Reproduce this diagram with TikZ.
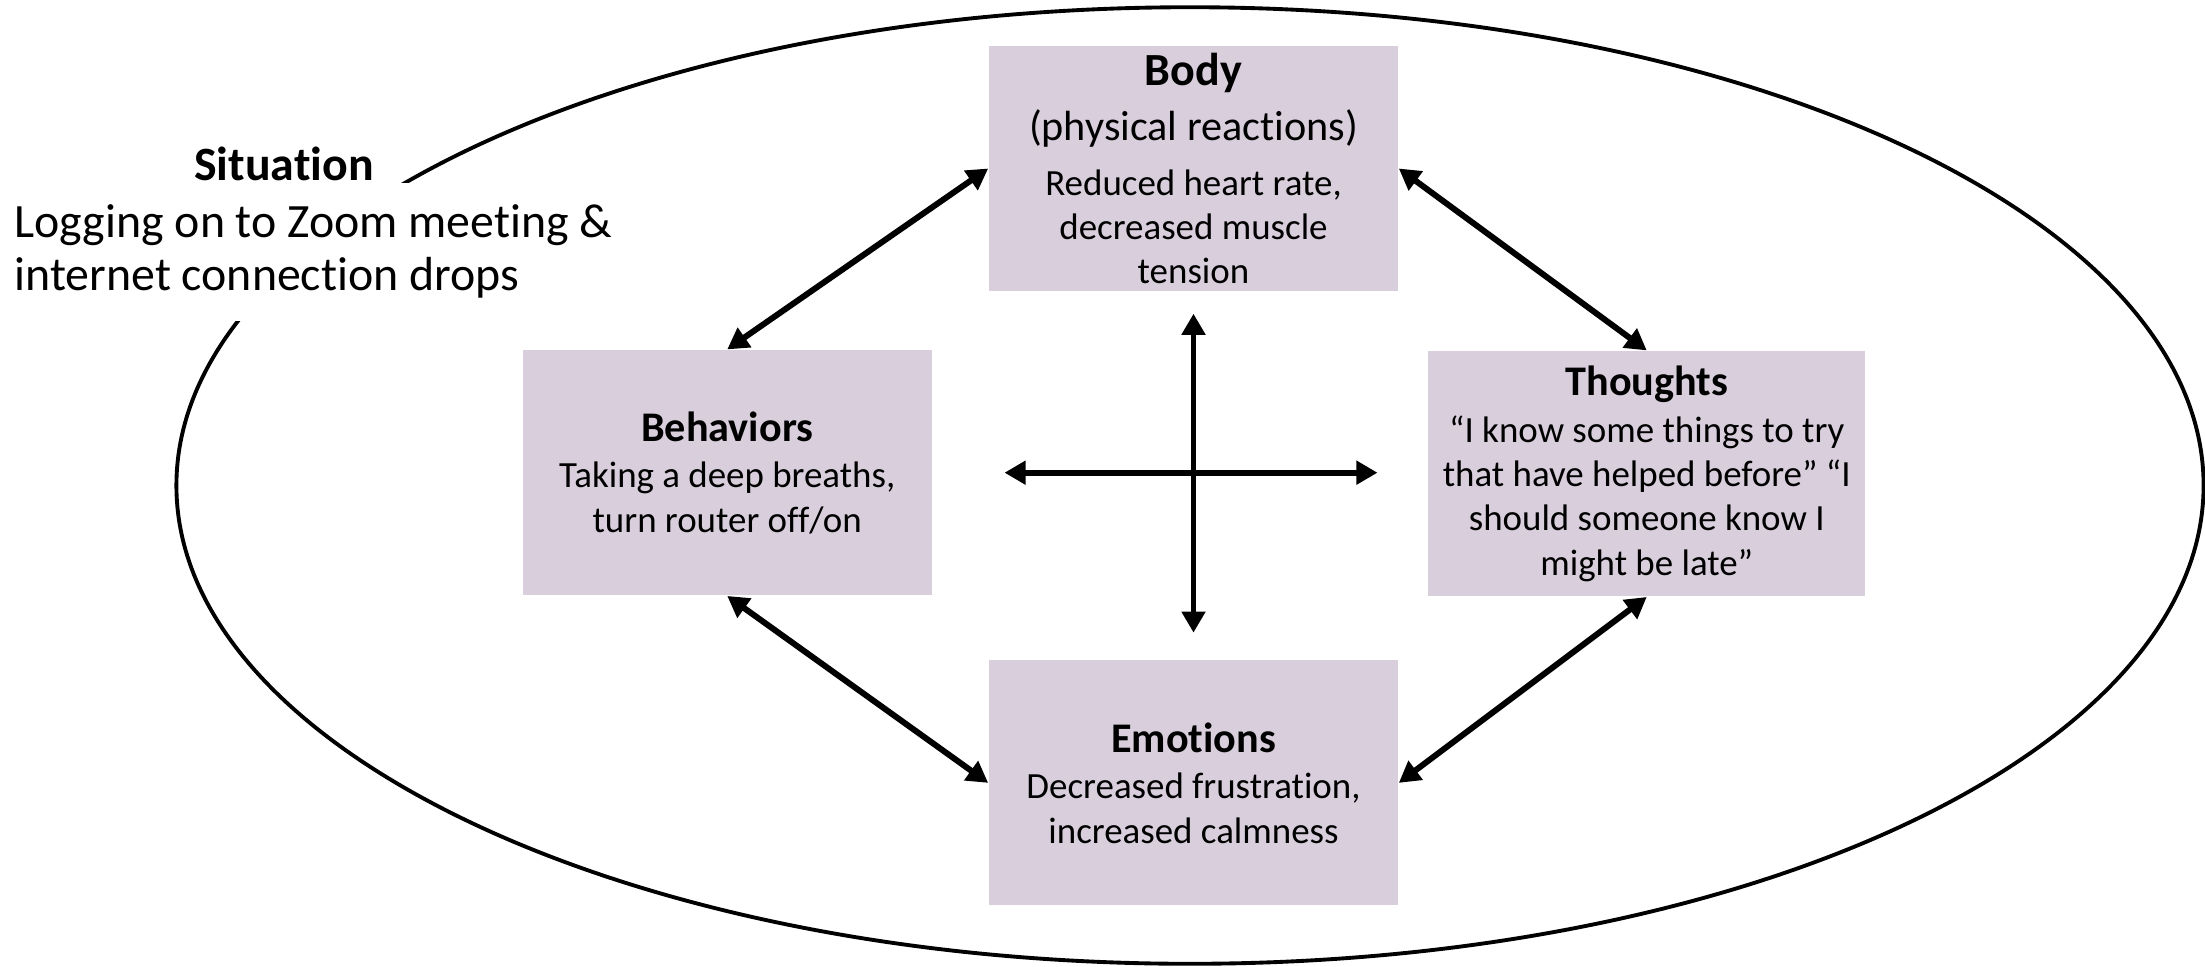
\documentclass[tikz,border=0pt]{standalone}
\usepackage{fontspec}
\setmainfont{Carlito}[Ligatures={NoCommon}]
\usetikzlibrary{positioning,arrows.meta,calc}
\definecolor{boxfill}{RGB}{216,206,220}
\tikzset{
  box/.style={rectangle, fill=boxfill, align=center, minimum width=4.09cm, minimum height=2.45cm, inner sep=2pt, font=\fontsize{10.5}{12.6}\selectfont},
  link/.style={{Triangle[length=6pt,width=6.5pt]}-{Triangle[length=6pt,width=6.5pt]}, line width=1.7pt},
  sittext/.style={fill=white, align=left, inner xsep=0pt, inner ysep=0pt, minimum height=1.38cm, font=\fontsize{13.6}{15.1}\selectfont}
}
\newcommand{\boxhead}[1]{{\fontsize{12}{14.4}\selectfont\bfseries #1}}

\begin{document}
\begin{tikzpicture}[x=0.01cm, y=-0.01cm, node distance=3cm]
  \useasboundingbox (0,0) rectangle (2205,966);
  \draw[line width=1.1pt] (1190,485.5) ellipse [x radius=10.13cm, y radius=4.78cm];

  \node[box] (body) at (1193.5,168.5) {{\fontsize{13.1}{15.5}\selectfont\bfseries Body}\\[3pt]{\fontsize{12}{14.4}\selectfont (physical reactions)}\\[3pt]Reduced heart rate,\\decreased muscle\\tension};
  \node[box, below of=body, node distance=6.14cm] (emo) {\boxhead{Emotions}\\[0.7pt]Decreased frustration,\\increased calmness};
  \node[box, below of=body, node distance=3.04cm, xshift=-4.66cm] (beh) {\boxhead{Behaviors}\\[0.7pt]Taking a deep breaths,\\turn router off/on};
  \node[box, minimum width=4.37cm, below of=body, node distance=3.05cm, xshift=4.53cm] (tho) {\boxhead{Thoughts}\\[0.7pt]“I know some things to try\\that have helped before” “I\\should someone know I\\might be late”};

  \node[sittext, anchor=north west] (sit) at (14,182) {Logging on to Zoom meeting \&\\internet connection drops};
  \node[font=\fontsize{13.6}{15.1}\selectfont\bfseries] (sithead) at (284,164) {Situation};

  \draw[link] (beh.north) -- (body.west);
  \draw[link] (body.east) -- (tho.north);
  \draw[link] (beh.south) -- (emo.west);
  \draw[link] (tho.south) -- (emo.east);

  \coordinate (c) at (body.south |- beh.east);
  \coordinate (up) at ($(c)+(0,-159)$);
  \coordinate (down) at ($(c)+(0,160)$);
  \coordinate (left) at ($(c)+(-189,0)$);
  \coordinate (right) at ($(c)+(184,0)$);
  \draw[link] (up) -- (down);
  \draw[link] (left) -- (right);
\end{tikzpicture}
\end{document}
